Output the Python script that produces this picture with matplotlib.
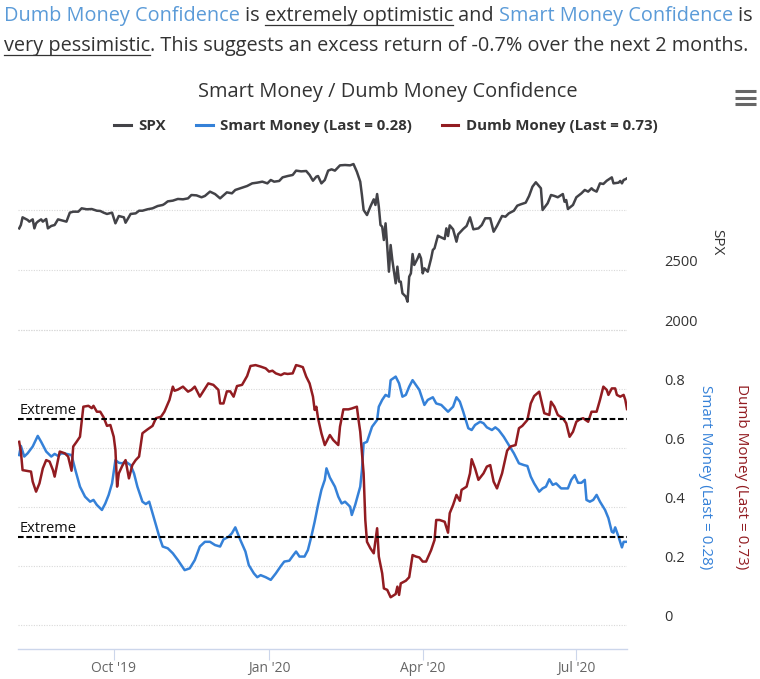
import matplotlib
matplotlib.use('Agg')
import matplotlib.pyplot as plt
import matplotlib.transforms as mtransforms
from matplotlib.lines import Line2D
import pandas as pd

# ---------------- data ----------------
spx_dates = [
    '2019-08-06', '2019-08-07', '2019-08-08', '2019-08-11', '2019-08-12', '2019-08-14', '2019-08-15', '2019-08-16',
    '2019-08-17', '2019-08-19', '2019-08-20', '2019-08-22', '2019-08-23', '2019-08-25', '2019-08-27', '2019-08-29',
    '2019-09-01', '2019-09-03', '2019-09-05', '2019-09-07', '2019-09-10', '2019-09-12', '2019-09-15', '2019-09-18',
    '2019-09-21', '2019-09-23', '2019-09-25', '2019-09-27', '2019-09-30', '2019-10-02', '2019-10-04', '2019-10-07',
    '2019-10-08', '2019-10-11', '2019-10-14', '2019-10-16', '2019-10-18', '2019-10-21', '2019-10-24', '2019-10-27',
    '2019-10-30', '2019-10-31', '2019-11-02', '2019-11-05', '2019-11-08', '2019-11-11', '2019-11-14', '2019-11-16',
    '2019-11-19', '2019-11-22', '2019-11-24', '2019-11-27', '2019-11-30', '2019-12-03', '2019-12-07', '2019-12-10',
    '2019-12-12', '2019-12-15', '2019-12-19', '2019-12-22', '2019-12-25', '2019-12-28', '2019-12-31', '2020-01-02',
    '2020-01-04', '2020-01-07', '2020-01-09', '2020-01-12', '2020-01-15', '2020-01-17', '2020-01-20', '2020-01-23',
    '2020-01-25', '2020-01-27', '2020-01-29', '2020-01-30', '2020-02-01', '2020-02-03', '2020-02-05', '2020-02-07',
    '2020-02-09', '2020-02-12', '2020-02-15', '2020-02-18', '2020-02-20', '2020-02-22', '2020-02-24', '2020-02-25',
    '2020-02-26', '2020-02-28', '2020-03-01', '2020-03-03', '2020-03-04', '2020-03-05', '2020-03-06', '2020-03-07',
    '2020-03-08', '2020-03-09', '2020-03-10', '2020-03-11', '2020-03-12', '2020-03-13', '2020-03-14', '2020-03-16',
    '2020-03-17', '2020-03-18', '2020-03-19', '2020-03-20', '2020-03-22', '2020-03-23', '2020-03-24', '2020-03-25',
    '2020-03-26', '2020-03-27', '2020-03-29', '2020-03-30', '2020-03-31', '2020-04-01', '2020-04-02', '2020-04-04',
    '2020-04-06', '2020-04-07', '2020-04-08', '2020-04-10', '2020-04-11', '2020-04-14', '2020-04-15', '2020-04-16',
    '2020-04-17', '2020-04-19', '2020-04-21', '2020-04-22', '2020-04-25', '2020-04-27', '2020-04-29', '2020-05-01',
    '2020-05-04', '2020-05-06', '2020-05-08', '2020-05-11', '2020-05-13', '2020-05-15', '2020-05-18', '2020-05-20',
    '2020-05-22', '2020-05-25', '2020-05-27', '2020-05-29', '2020-06-01', '2020-06-03', '2020-06-05', '2020-06-07',
    '2020-06-10', '2020-06-11', '2020-06-14', '2020-06-16', '2020-06-18', '2020-06-20', '2020-06-23', '2020-06-24',
    '2020-06-25', '2020-06-26', '2020-06-29', '2020-07-01', '2020-07-04', '2020-07-06', '2020-07-08', '2020-07-10',
    '2020-07-11', '2020-07-13', '2020-07-15', '2020-07-17', '2020-07-19', '2020-07-22', '2020-07-23', '2020-07-26',
    '2020-07-27', '2020-07-28', '2020-07-29', '2020-07-30', '2020-07-31']
spx_values = [
    2847, 2875, 2939, 2917, 2903, 2922, 2847, 2889,
    2903, 2922, 2903, 2925, 2847, 2867, 2875, 2922,
    2911, 2903, 2978, 2986, 2986, 3014, 3006, 3008,
    2994, 2992, 2978, 2967, 2978, 2889, 2950, 2939,
    2894, 2967, 2972, 2994, 2994, 3006, 3014, 3033,
    3042, 3050, 3072, 3078, 3092, 3089, 3097, 3125,
    3122, 3106, 3117, 3153, 3133, 3097, 3147, 3139,
    3167, 3181, 3200, 3222, 3228, 3236, 3222, 3250,
    3236, 3242, 3272, 3283, 3292, 3328, 3322, 3325,
    3292, 3244, 3278, 3283, 3222, 3250, 3328, 3339,
    3328, 3372, 3375, 3372, 3383, 3319, 3236, 3125,
    3000, 2958, 3028, 3089, 3042, 3133, 3028, 2875,
    2861, 2750, 2889, 2694, 2486, 2708, 2583, 2389,
    2528, 2403, 2403, 2306, 2278, 2236, 2444, 2472,
    2633, 2542, 2597, 2633, 2597, 2472, 2514, 2486,
    2597, 2667, 2681, 2786, 2778, 2758, 2847, 2783,
    2872, 2839, 2736, 2797, 2842, 2867, 2939, 2839,
    2847, 2875, 2931, 2931, 2819, 2867, 2950, 2944,
    2972, 2994, 3036, 3047, 3061, 3117, 3194, 3231,
    3181, 3000, 3056, 3125, 3117, 3106, 3133, 3069,
    3083, 3008, 3042, 3106, 3139, 3167, 3153, 3181,
    3167, 3153, 3222, 3217, 3244, 3272, 3222, 3228,
    3242, 3222, 3250, 3256, 3264]

smart_dates = [
    '2019-08-06', '2019-08-07', '2019-08-09', '2019-08-11', '2019-08-14', '2019-08-17', '2019-08-19', '2019-08-22',
    '2019-08-25', '2019-08-27', '2019-08-29', '2019-08-31', '2019-09-03', '2019-09-06', '2019-09-08', '2019-09-11',
    '2019-09-14', '2019-09-17', '2019-09-19', '2019-09-21', '2019-09-24', '2019-09-26', '2019-09-28', '2019-09-30',
    '2019-10-02', '2019-10-04', '2019-10-06', '2019-10-08', '2019-10-11', '2019-10-13', '2019-10-15', '2019-10-18',
    '2019-10-20', '2019-10-22', '2019-10-24', '2019-10-26', '2019-10-28', '2019-10-30', '2019-11-02', '2019-11-05',
    '2019-11-08', '2019-11-10', '2019-11-12', '2019-11-15', '2019-11-18', '2019-11-21', '2019-11-24', '2019-11-27',
    '2019-11-30', '2019-12-03', '2019-12-05', '2019-12-08', '2019-12-10', '2019-12-12', '2019-12-15', '2019-12-18',
    '2019-12-20', '2019-12-23', '2019-12-25', '2019-12-27', '2019-12-30', '2020-01-02', '2020-01-05', '2020-01-08',
    '2020-01-10', '2020-01-13', '2020-01-15', '2020-01-17', '2020-01-19', '2020-01-22', '2020-01-24', '2020-01-26',
    '2020-01-28', '2020-01-30', '2020-02-01', '2020-02-03', '2020-02-04', '2020-02-06', '2020-02-09', '2020-02-11',
    '2020-02-13', '2020-02-15', '2020-02-18', '2020-02-19', '2020-02-21', '2020-02-24', '2020-02-25', '2020-02-26',
    '2020-02-28', '2020-02-29', '2020-03-02', '2020-03-05', '2020-03-06', '2020-03-08', '2020-03-10', '2020-03-12',
    '2020-03-13', '2020-03-16', '2020-03-18', '2020-03-20', '2020-03-22', '2020-03-24', '2020-03-26', '2020-03-30',
    '2020-04-02', '2020-04-04', '2020-04-07', '2020-04-09', '2020-04-12', '2020-04-16', '2020-04-19', '2020-04-21',
    '2020-04-23', '2020-04-25', '2020-04-28', '2020-04-30', '2020-05-02', '2020-05-05', '2020-05-07', '2020-05-09',
    '2020-05-12', '2020-05-14', '2020-05-16', '2020-05-19', '2020-05-22', '2020-05-25', '2020-05-28', '2020-05-31',
    '2020-06-02', '2020-06-04', '2020-06-06', '2020-06-09', '2020-06-11', '2020-06-13', '2020-06-15', '2020-06-17',
    '2020-06-19', '2020-06-22', '2020-06-24', '2020-06-26', '2020-06-28', '2020-06-30', '2020-07-02', '2020-07-04',
    '2020-07-06', '2020-07-07', '2020-07-09', '2020-07-11', '2020-07-13', '2020-07-15', '2020-07-18', '2020-07-20',
    '2020-07-22', '2020-07-23', '2020-07-24', '2020-07-26', '2020-07-28', '2020-07-29', '2020-07-31']
smart_values = [
    0.576, 0.607, 0.571, 0.582, 0.605, 0.641, 0.621, 0.588,
    0.571, 0.580, 0.573, 0.582, 0.580, 0.576, 0.531, 0.469,
    0.435, 0.418, 0.424, 0.407, 0.390, 0.412, 0.441, 0.480,
    0.559, 0.550, 0.548, 0.554, 0.542, 0.514, 0.469, 0.418,
    0.410, 0.418, 0.379, 0.339, 0.299, 0.266, 0.260, 0.243,
    0.220, 0.203, 0.186, 0.192, 0.220, 0.266, 0.282, 0.282,
    0.271, 0.266, 0.290, 0.299, 0.311, 0.331, 0.288, 0.249,
    0.203, 0.175, 0.162, 0.169, 0.162, 0.153, 0.175, 0.200,
    0.215, 0.218, 0.234, 0.249, 0.232, 0.232, 0.254, 0.299,
    0.350, 0.407, 0.458, 0.492, 0.531, 0.500, 0.469, 0.435,
    0.412, 0.418, 0.401, 0.373, 0.407, 0.469, 0.525, 0.616,
    0.621, 0.638, 0.672, 0.695, 0.740, 0.763, 0.780, 0.774,
    0.830, 0.842, 0.819, 0.774, 0.780, 0.808, 0.830, 0.797,
    0.746, 0.763, 0.772, 0.751, 0.746, 0.723, 0.740, 0.772,
    0.757, 0.723, 0.667, 0.661, 0.678, 0.689, 0.684, 0.670,
    0.661, 0.670, 0.661, 0.638, 0.610, 0.582, 0.548, 0.542,
    0.539, 0.503, 0.480, 0.452, 0.463, 0.469, 0.494, 0.475,
    0.480, 0.463, 0.463, 0.463, 0.492, 0.508, 0.482, 0.482,
    0.492, 0.424, 0.418, 0.424, 0.441, 0.418, 0.390, 0.362,
    0.316, 0.313, 0.331, 0.299, 0.263, 0.282, 0.282]

dumb_dates = [
    '2019-08-06', '2019-08-07', '2019-08-08', '2019-08-10', '2019-08-13', '2019-08-14', '2019-08-16', '2019-08-18',
    '2019-08-20', '2019-08-22', '2019-08-24', '2019-08-26', '2019-08-27', '2019-08-29', '2019-08-30', '2019-09-02',
    '2019-09-04', '2019-09-06', '2019-09-07', '2019-09-09', '2019-09-11', '2019-09-13', '2019-09-16', '2019-09-18',
    '2019-09-19', '2019-09-21', '2019-09-23', '2019-09-25', '2019-09-27', '2019-09-29', '2019-10-01', '2019-10-02',
    '2019-10-03', '2019-10-04', '2019-10-06', '2019-10-08', '2019-10-10', '2019-10-12', '2019-10-14', '2019-10-16',
    '2019-10-18', '2019-10-21', '2019-10-24', '2019-10-26', '2019-10-29', '2019-10-31', '2019-11-03', '2019-11-05',
    '2019-11-06', '2019-11-08', '2019-11-11', '2019-11-14', '2019-11-16', '2019-11-18', '2019-11-21', '2019-11-23',
    '2019-11-26', '2019-11-29', '2019-12-02', '2019-12-03', '2019-12-05', '2019-12-07', '2019-12-09', '2019-12-11',
    '2019-12-13', '2019-12-16', '2019-12-19', '2019-12-21', '2019-12-24', '2019-12-27', '2019-12-30', '2020-01-01',
    '2020-01-03', '2020-01-05', '2020-01-08', '2020-01-10', '2020-01-12', '2020-01-15', '2020-01-17', '2020-01-19',
    '2020-01-21', '2020-01-23', '2020-01-25', '2020-01-27', '2020-01-28', '2020-01-29', '2020-01-30', '2020-02-01',
    '2020-02-03', '2020-02-06', '2020-02-08', '2020-02-11', '2020-02-12', '2020-02-14', '2020-02-17', '2020-02-19',
    '2020-02-22', '2020-02-23', '2020-02-24', '2020-02-26', '2020-02-27', '2020-02-28', '2020-03-01', '2020-03-03',
    '2020-03-05', '2020-03-06', '2020-03-08', '2020-03-09', '2020-03-11', '2020-03-13', '2020-03-16', '2020-03-17',
    '2020-03-18', '2020-03-19', '2020-03-22', '2020-03-24', '2020-03-26', '2020-03-28', '2020-03-30', '2020-04-01',
    '2020-04-03', '2020-04-06', '2020-04-08', '2020-04-09', '2020-04-11', '2020-04-14', '2020-04-16', '2020-04-17',
    '2020-04-19', '2020-04-21', '2020-04-23', '2020-04-24', '2020-04-27', '2020-04-29', '2020-04-30', '2020-05-02',
    '2020-05-04', '2020-05-07', '2020-05-09', '2020-05-11', '2020-05-13', '2020-05-15', '2020-05-18', '2020-05-21',
    '2020-05-23', '2020-05-26', '2020-05-28', '2020-05-30', '2020-06-02', '2020-06-04', '2020-06-06', '2020-06-09',
    '2020-06-12', '2020-06-15', '2020-06-16', '2020-06-18', '2020-06-20', '2020-06-23', '2020-06-25', '2020-06-27',
    '2020-06-29', '2020-07-01', '2020-07-03', '2020-07-05', '2020-07-08', '2020-07-10', '2020-07-13', '2020-07-15',
    '2020-07-17', '2020-07-19', '2020-07-20', '2020-07-22', '2020-07-24', '2020-07-25', '2020-07-27', '2020-07-29',
    '2020-07-30', '2020-07-31']
dumb_values = [
    0.621, 0.588, 0.525, 0.523, 0.520, 0.486, 0.452, 0.480,
    0.531, 0.559, 0.554, 0.525, 0.503, 0.559, 0.588, 0.582,
    0.571, 0.523, 0.605, 0.621, 0.638, 0.740, 0.743, 0.735,
    0.743, 0.723, 0.723, 0.704, 0.675, 0.678, 0.638, 0.593,
    0.469, 0.514, 0.539, 0.559, 0.497, 0.542, 0.559, 0.571,
    0.650, 0.663, 0.675, 0.701, 0.706, 0.723, 0.763, 0.808,
    0.794, 0.798, 0.808, 0.791, 0.797, 0.808, 0.774, 0.792,
    0.819, 0.814, 0.797, 0.751, 0.751, 0.792, 0.792, 0.774,
    0.810, 0.814, 0.844, 0.878, 0.881, 0.876, 0.870, 0.859,
    0.862, 0.853, 0.847, 0.853, 0.851, 0.853, 0.881, 0.878,
    0.874, 0.842, 0.819, 0.774, 0.729, 0.740, 0.701, 0.650,
    0.610, 0.644, 0.627, 0.610, 0.672, 0.731, 0.731, 0.734,
    0.740, 0.695, 0.655, 0.514, 0.356, 0.282, 0.260, 0.243,
    0.328, 0.232, 0.175, 0.124, 0.119, 0.094, 0.105, 0.130,
    0.102, 0.141, 0.150, 0.162, 0.237, 0.232, 0.229, 0.215,
    0.215, 0.254, 0.288, 0.356, 0.356, 0.350, 0.313, 0.379,
    0.407, 0.441, 0.421, 0.458, 0.469, 0.514, 0.562, 0.531,
    0.492, 0.514, 0.537, 0.542, 0.486, 0.463, 0.514, 0.591,
    0.605, 0.610, 0.667, 0.675, 0.695, 0.751, 0.776, 0.791,
    0.718, 0.712, 0.757, 0.740, 0.712, 0.701, 0.684, 0.638,
    0.655, 0.689, 0.697, 0.701, 0.689, 0.723, 0.723, 0.763,
    0.808, 0.797, 0.780, 0.802, 0.802, 0.780, 0.774, 0.780,
    0.763, 0.732]

extreme_high = 0.70
extreme_low = 0.30
smart_last = 0.28
dumb_last = 0.73
conf_ticks = [0, 0.2, 0.4, 0.6, 0.8]
conf_grid = [0, 0.2, 0.4, 0.6, 0.8, 1.0]
spx_ticks = [2000, 2500]
spx_grid = [2000, 2500, 3000]
x_tick_dates = ['2019-10-01', '2020-01-01', '2020-04-01', '2020-07-01']
x_tick_labels = ["Oct '19", "Jan '20", "Apr '20", "Jul '20"]
x_start, x_end = '2019-08-05', '2020-07-31'

title = 'Smart Money / Dumb Money Confidence'
header_line1 = [('Dumb Money Confidence', 'blue', False), (' is ', 'dark', False),
                ('extremely optimistic', 'dark', True), (' and ', 'dark', False),
                ('Smart Money Confidence', 'blue', False), (' is', 'dark', False)]
header_line2 = [('very pessimistic', 'dark', True),
                ('. This suggests an excess return of -0.7% over the next 2 months.', 'dark', False)]

# ---------------- style ----------------
FONT = 'Open Sans'
C_SPX = '#434348'
C_SMART = '#3581d8'
C_DUMB = '#921c21'
C_HEAD_BLUE = '#5b9bd8'
C_DARK = '#333333'
C_AXIS = '#ccd6eb'
C_GRID = '#d9d9d9'

W, H = 760, 679
fig = plt.figure(figsize=(W / 100, H / 100), dpi=100)
fig.patch.set_facecolor('white')

L, R, T, B = 17.5, 627, 150, 649
ax = fig.add_axes([L / W, 1 - B / H, (R - L) / W, (B - T) / H])
ax2 = ax.twinx()

# value axes: 0 -> y=625px, 1.0 -> y=330px ; SPX 2000 -> 330px, 3000 -> 210px
ax.set_ylim((625 - B) / 295.0, (625 - T) / 295.0)
ax2.set_ylim(2000 + (330 - B) * 500 / 60.0, 2000 + (330 - T) * 500 / 60.0)
ax.set_xlim(pd.Timestamp(x_start), pd.Timestamp(x_end))

for a in (ax, ax2):
    for s in a.spines.values():
        s.set_visible(False)
    a.set_facecolor('none')
ax.spines['bottom'].set_visible(True)
ax.spines['bottom'].set_color(C_AXIS)
ax.spines['bottom'].set_linewidth(1.0)

ax.set_yticks(conf_grid)
ax2.set_yticks(spx_grid)
ax.tick_params(axis='y', length=0, labelleft=False, labelright=False)
ax2.tick_params(axis='y', length=0, labelleft=False, labelright=False)
for a in (ax, ax2):
    a.grid(axis='y', color=C_GRID, lw=0.8, ls=(0, (1, 1.3)))
    a.set_axisbelow(True)

ax.set_xticks(pd.to_datetime(x_tick_dates))
ax.set_xticklabels(x_tick_labels, family=FONT, fontsize=10, color='#666666')
ax.tick_params(axis='x', length=8, width=0.8, color=C_AXIS, pad=0.5)

# series
ax2.plot(pd.to_datetime(spx_dates), spx_values, color=C_SPX, lw=1.8, solid_joinstyle='round', zorder=3)
ax.plot(pd.to_datetime(smart_dates), smart_values, color=C_SMART, lw=1.8, solid_joinstyle='round', zorder=3)
ax.plot(pd.to_datetime(dumb_dates), dumb_values, color=C_DUMB, lw=1.8, solid_joinstyle='round', zorder=4)

# extreme lines
for lvl in (extreme_high, extreme_low):
    ax.axhline(lvl, color='black', lw=1.5, ls=(0, (2.7, 1.3)), zorder=5)
    ax.text(0.003, lvl, 'Extreme', transform=ax.get_yaxis_transform() +
            mtransforms.ScaledTranslation(0, 4 / 100, fig.dpi_scale_trans),
            family=FONT, fontsize=10.5, color='#111111', ha='left', va='baseline', zorder=6)

# right-hand tick labels (raised a little above their grid lines)
lab_x = (664 - L) / (R - L)
off = mtransforms.ScaledTranslation(0, 7.5 / 100, fig.dpi_scale_trans)
for v in conf_ticks:
    ax.text(lab_x, v, f'{v:g}', transform=ax.get_yaxis_transform() + off, family=FONT,
            fontsize=10.5, color=C_DARK, ha='left', va='center', clip_on=False)
for v in spx_ticks:
    ax2.text(lab_x, v, f'{v:d}', transform=ax2.get_yaxis_transform() + off, family=FONT,
             fontsize=10.5, color=C_DARK, ha='left', va='center', clip_on=False)

# axis titles
fig.text(717 / W, 1 - 242 / H, 'SPX', rotation=-90, family=FONT, fontsize=11,
         color=C_DARK, ha='center', va='center')
fig.text(706 / W, 1 - 477 / H, f'Smart Money (Last = {smart_last:.2f})', rotation=-90,
         family=FONT, fontsize=11, color=C_SMART, ha='center', va='center')
fig.text(742 / W, 1 - 477 / H, f'Dumb Money (Last = {dumb_last:.2f})', rotation=-90,
         family=FONT, fontsize=11, color=C_DUMB, ha='center', va='center')

# title
fig.text(388 / W, 1 - 92 / H, title, family=FONT, fontsize=14.4, color=C_DARK,
         ha='center', va='center')

# legend
handles = [Line2D([], [], color=C_SPX, lw=2.2), Line2D([], [], color=C_SMART, lw=2.2),
           Line2D([], [], color=C_DUMB, lw=2.2)]
labels = ['SPX', f'Smart Money (Last = {smart_last:.2f})', f'Dumb Money (Last = {dumb_last:.2f})']
fig.legend(handles, labels, loc='center', bbox_to_anchor=(386 / W, 1 - 126 / H), ncol=3,
           frameon=False, handlelength=1.1, handletextpad=0.5, columnspacing=2.0,
           prop={'family': FONT, 'weight': 'bold', 'size': 10.8}, labelcolor=C_DARK)

# menu icon
for yy in (91, 97.5, 104):
    fig.add_artist(Line2D([735 / W, 756 / W], [1 - yy / H, 1 - yy / H], lw=2.2,
                          color='#666666', transform=fig.transFigure, solid_capstyle='butt'))

# header rich text
renderer = fig.canvas.get_renderer()
colors = {'blue': C_HEAD_BLUE, 'dark': C_DARK}


def text_w(s, size):
    t = fig.text(0, 0, s, family=FONT, fontsize=size)
    w = t.get_window_extent(renderer).width
    t.remove()
    return w


base = 14.0
full1 = ''.join(s for s, _, _ in header_line1)
hsize = base * 753.0 / text_w(full1, base)


def draw_line(segs, x0, baseline):
    wx = text_w('x', hsize)
    prefix = ''
    for s, c, ul in segs:
        x = x0 + (text_w(prefix + 'x', hsize) - wx if prefix else 0)
        fig.text(x / W, 1 - baseline / H, s, family=FONT, fontsize=hsize, color=colors[c],
                 ha='left', va='baseline')
        if ul:
            w = text_w(s, hsize)
            fig.add_artist(Line2D([x / W, (x + w) / W], [1 - (baseline + 3.5) / H] * 2, lw=0.9,
                                  color=C_DARK, transform=fig.transFigure))
        prefix += s


draw_line(header_line1, 4, 21)
draw_line(header_line2, 4, 51)

fig.savefig('out.png', dpi=100, facecolor='white')
